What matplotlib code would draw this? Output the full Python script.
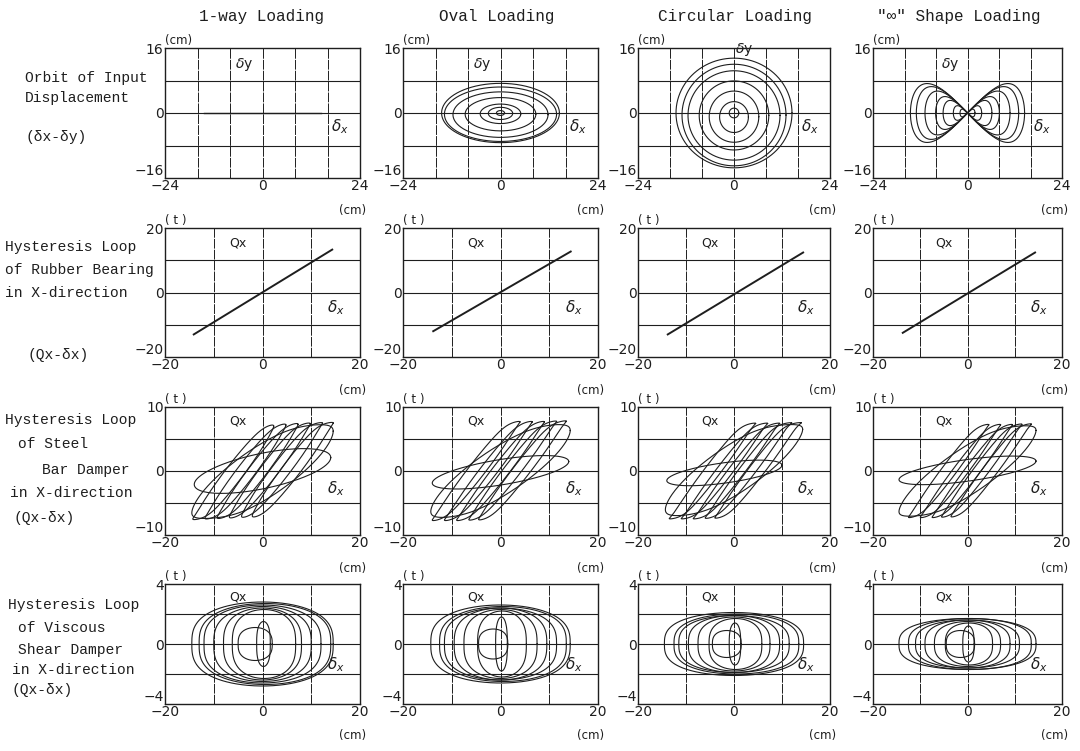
import numpy as np
import matplotlib
matplotlib.use('Agg')
import matplotlib.pyplot as plt

# column / row headings
col_titles = ['1-way Loading', 'Oval Loading', 'Circular Loading', '"∞" Shape Loading']

# orbit of input displacement (cm)
oneway_amp = 14.5
oval_ax = [14.5, 13.8, 11.7, 8.7, 5.0, 3.0, 1.0]
oval_ay = [7.3, 6.7, 5.6, 4.1, 2.4, 1.5, 0.6]
oval_cy = [0.0, -0.3, -0.4, -0.3, -0.2, -0.1, 0.0]
circ_rx = [14.5, 13.0, 11.5, 8.7, 6.2, 3.6, 1.2]
circ_ry = [13.5, 12.5, 11.0, 8.5, 6.3, 3.8, 1.2]
circ_cy = [0.0, -0.5, -0.6, -0.6, -0.9, -1.0, 0.0]
inf_amp = [14.5, 13.0, 10.8, 8.1, 6.2, 3.6, 1.9]

# rubber bearing: end points of the loop (cm, t)
rubber_x0 = [-14.1, -13.8, -13.8, -13.7]
rubber_q0 = [-13.0, -12.0, -13.0, -12.5]
rubber_x1 = [14.3, 14.4, 14.4, 14.3]
rubber_q1 = [13.3, 12.7, 12.4, 12.4]

# steel bar damper loops: (x centre, Q centre, x half range, slope, half width)
steel_loops = [
    [(0, -0.2, 14.5, 0.45, 4.6), (-6.0, -0.5, 8.3, 0.95, 2.2), (-3.5, -0.2, 8.3, 0.95, 2.2),
     (-1.0, 0, 8.3, 0.95, 2.2), (1.5, 0.2, 8.3, 0.95, 2.2), (4.0, 0.4, 8.3, 0.95, 2.2),
     (6.2, 0.5, 8.3, 0.95, 2.2), (0, 0, 14.0, 0.15, 2.8)],
    [(0, 0, 14.3, 0.45, 4.2), (-5.0, 0, 9.0, 0.95, 2.0), (-2.5, 0, 9.0, 0.95, 2.0),
     (0.0, 0, 9.0, 0.95, 2.0), (2.5, 0.2, 9.0, 0.95, 2.0), (4.5, 0.3, 9.0, 0.95, 2.0),
     (0, -0.2, 14.0, 0.12, 2.0)],
    [(0, 0.3, 14.3, 0.45, 4.3), (-4.5, 0, 9.0, 0.95, 1.9), (-2.0, 0, 9.0, 0.95, 1.9),
     (0.5, 0, 9.0, 0.95, 1.9), (3.0, 0.3, 9.0, 0.95, 1.9), (5.0, 0.4, 9.0, 0.95, 1.9),
     (-2.0, -0.3, 12.0, 0.1, 1.6)],
    [(0, 0, 14.5, 0.45, 4.1), (-4.0, 0, 8.5, 0.95, 1.8), (-1.5, 0, 8.5, 0.95, 1.8),
     (1.0, 0, 8.5, 0.95, 1.8), (3.0, 0.2, 8.5, 0.95, 1.8), (5.0, 0.3, 8.5, 0.95, 1.8),
     (0, 0.1, 14.5, 0.1, 1.7)],
]
steel_qmax = [8.0, 8.2, 7.8, 7.7]

# viscous shear damper loops: x amplitude, Q amplitude, x centre
visc_a = [
    [14.5, 13.5, 12.0, 10.0, 8.0, 6.5, 3.5, 1.4],
    [14.3, 13.0, 11.5, 9.5, 7.5, 5.0, 3.0, 1.2],
    [14.5, 13.0, 11.5, 9.5, 7.5, 5.5, 3.0, 1.2],
    [14.5, 13.0, 11.0, 9.0, 7.0, 5.0, 3.0, 1.2],
]
visc_q = [
    [2.8, 2.7, 2.6, 2.5, 2.4, 2.3, 1.1, 1.5],
    [2.6, 2.5, 2.4, 2.4, 2.3, 2.2, 1.0, 1.8],
    [2.1, 2.0, 1.9, 1.9, 1.8, 1.7, 0.9, 1.4],
    [1.7, 1.7, 1.6, 1.6, 1.5, 1.4, 0.9, 1.2],
]
visc_xc = [0, 0.5, 0, 0, 0, 0.3, -1.5, 0.2]

# panel layout in pixels
col_left = [165, 403, 638, 873]
col_right = [360, 598, 830, 1062]
row_top = [48, 228, 407, 584]
row_bot = [178, 357, 535, 704]

xlims = [24, 20, 20, 20]
ylims = [16, 20, 10, 4]
xgrid = [[-16, -8, 0, 8, 16], [-10, 0, 10], [-10, 0, 10], [-10, 0, 10]]
ygrid = [[-8, 0, 8], [-10, 0, 10], [-5, 0, 5], [-2, 0, 2]]
yunit = ['(cm)', '( t )', '( t )', '( t )']

INK = '#1e1e1e'
MONO = 'Liberation Mono'

fig = plt.figure(figsize=(10.8, 7.51), dpi=100)
W, H = 1080, 751
t = np.linspace(0, 2 * np.pi, 500)

axes = {}
for r in range(4):
    for c in range(4):
        ax = fig.add_axes([col_left[c] / W, 1 - row_bot[r] / H,
                           (col_right[c] - col_left[c]) / W, (row_bot[r] - row_top[r]) / H])
        axes[r, c] = ax
        xl, yl = xlims[r], ylims[r]
        ax.set_xlim(-xl, xl)
        ax.set_ylim(-yl, yl)
        for g in xgrid[r]:
            ax.axvline(g, color=INK, lw=0.7, ls=(0, (10, 1.2)), zorder=1)
        for g in ygrid[r]:
            ax.axhline(g, color=INK, lw=0.8, zorder=1)
        ax.set_xticks([-xl, 0, xl])
        ax.set_xticklabels(['\u2212%d' % xl, '0', '%d' % xl])
        ax.set_yticks([-yl, 0, yl])
        ax.set_yticklabels(['\u2212%d' % yl, '0', '%d' % yl])
        ax.tick_params(length=0, pad=1, labelsize=10, colors=INK)
        ax.get_yticklabels()[0].set_va('bottom')
        for s in ax.spines.values():
            s.set_linewidth(1.0)
            s.set_color(INK)
        ax.text(0.0, 1.01, yunit[r], transform=ax.transAxes, fontsize=8.5,
                ha='left', va='bottom', color=INK)
        ax.text(0.96, -0.2 if r == 0 else -0.21, '(cm)', transform=ax.transAxes,
                fontsize=8.5, ha='center', va='top', color=INK)

lw = 0.8
# row 1: orbits
axes[0, 0].plot([-oneway_amp, oneway_amp], [0, 0], color=INK, lw=1.0)
for a, b, cy in zip(oval_ax, oval_ay, oval_cy):
    axes[0, 1].plot(a * np.cos(t), cy + b * np.sin(t), color=INK, lw=lw)
for a, b, cy in zip(circ_rx, circ_ry, circ_cy):
    axes[0, 2].plot(a * np.cos(t), cy + b * np.sin(t), color=INK, lw=lw)
for a in inf_amp:
    axes[0, 3].plot(a * np.cos(t), a * np.sin(t) * np.cos(t), color=INK, lw=lw)

# row 2: rubber bearing
for c in range(4):
    axes[1, c].plot([rubber_x0[c], rubber_x1[c]], [rubber_q0[c], rubber_q1[c]],
                    color=INK, lw=1.4)

# row 3: steel bar damper (smooth saturation at the yield force)
for c in range(4):
    qm = steel_qmax[c]
    for xc, qc, a, s, h in steel_loops[c]:
        x = xc + a * np.cos(t)
        raw = qc + s * a * np.cos(t) + h * np.sin(t)
        q = raw / (1 + (np.abs(raw) / qm) ** 8) ** (1 / 8)
        axes[2, c].plot(x, q, color=INK, lw=lw)

# row 4: viscous shear damper
for c in range(4):
    for a, qa, xc in zip(visc_a[c], visc_q[c], visc_xc):
        sn = np.sin(t)
        axes[3, c].plot(xc + a * np.cos(t), qa * np.sign(sn) * np.abs(sn) ** 0.7,
                        color=INK, lw=lw)

# panel annotations
for c in range(4):
    ax = axes[0, c]
    if c == 2:
        ax.text(2.5, 15.6, r'$\delta$y', fontsize=10, ha='center', va='center', color=INK)
    else:
        ax.text(-4.5, 12, r'$\delta$y', fontsize=10, ha='center', va='center', color=INK)
    ax.text(19, -3.4, r'$\delta_x$', fontsize=11, ha='center', va='center', color=INK)
    for r, (qy, dy) in zip([1, 2, 3], [(15.5, -4.7), (7.8, -2.8), (3.1, -1.4)]):
        axes[r, c].text(-5, qy, 'Qx', fontsize=9, ha='center', va='center', color=INK)
        axes[r, c].text(15, dy, r'$\delta_x$', fontsize=11, ha='center', va='center', color=INK)

# column titles
title_x = [262, 497, 735, 959]
for c in range(4):
    fig.text(title_x[c] / W, 1 - 17 / H, col_titles[c], fontsize=11.5, family=MONO,
             ha='center', va='center', color=INK)

# row labels
row_text = [
    [('Orbit of Input', 25, 78), ('Displacement', 25, 98), ('(δx-δy)', 25, 137)],
    [('Hysteresis Loop', 5, 247), ('of Rubber Bearing', 5, 270), ('in X-direction', 5, 293),
     ('(Qx-δx)', 28, 355)],
    [('Hysteresis Loop', 5, 420), ('of Steel', 18, 444), ('Bar Damper', 42, 470),
     ('in X-direction', 10, 493), ('(Qx-δx)', 14, 518)],
    [('Hysteresis Loop', 8, 605), ('of Viscous', 18, 628), ('Shear Damper', 18, 650),
     ('in X-direction', 12, 670), ('(Qx-δx)', 12, 690)],
]
for lines in row_text:
    for s, x, y in lines:
        fig.text(x / W, 1 - y / H, s, fontsize=10.5, family=MONO,
                 ha='left', va='center', color=INK)

fig.savefig('out.png', dpi=100, facecolor='white')
